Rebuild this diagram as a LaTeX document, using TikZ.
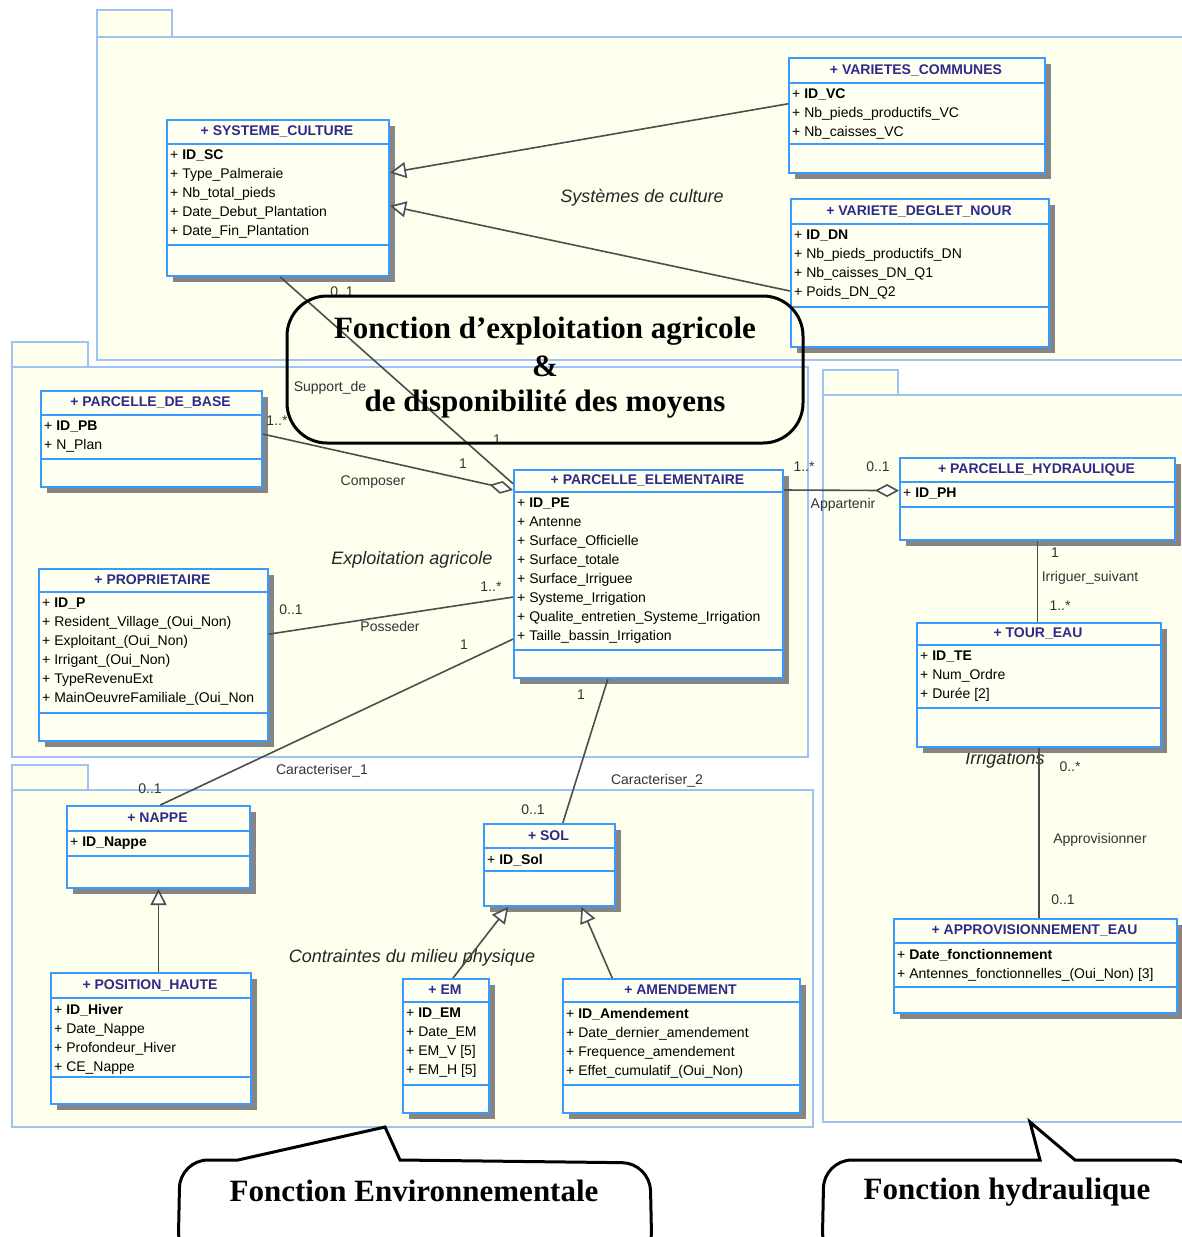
\documentclass[tikz,border=0pt]{standalone}
\usepackage{fontspec}
\setmainfont{Liberation Sans}
\newfontfamily\serifbig{Liberation Serif}
\usetikzlibrary{arrows.meta,calc}

\definecolor{pkgfill}{HTML}{FFFFEE}
\definecolor{pkgline}{HTML}{9DC3F2}
\definecolor{clsline}{HTML}{3A9BFF}
\definecolor{clsfill}{HTML}{FFFFF2}
\definecolor{shadowc}{HTML}{858585}
\definecolor{titlec}{HTML}{2E2A8A}
\definecolor{conn}{HTML}{4D4D4D}
\definecolor{labc}{HTML}{333333}

\tikzset{
 pkg/.style={draw=pkgline, fill=pkgfill, line width=1.6pt},
 clsbox/.style={draw=clsline, fill=clsfill, line width=2pt, inner sep=0pt},
 clssep/.style={draw=clsline, line width=2pt},
 clstitle/.style={text=titlec, font=\fontsize{14}{16}\selectfont\bfseries, inner sep=0pt},
 clsattr/.style={anchor=north west, align=left, inner sep=1pt, font=\fontsize{14}{19}\selectfont},
 conline/.style={draw=conn, line width=1.6pt},
 gen/.style={conline, -{Triangle[open, length=16pt, width=16pt, fill=white]}},
 agg/.style={conline, -{Diamond[open, length=24pt, width=13pt, fill=white]}},
 lab/.style={text=labc, font=\fontsize{14}{16}\selectfont, inner sep=0pt},
 pkglab/.style={text=black!85, font=\fontsize{18}{20}\selectfont\itshape, inner sep=0pt},
 callout/.style={draw=black, line width=3pt},
 bigtxt/.style={font=\serifbig\fontsize{31}{34}\selectfont\bfseries, inner sep=0pt},
}

\newcommand{\umlclass}[8]{%
  \fill[shadowc] ({#2+7},{#3+7}) rectangle ({#4+7},{#5+7});
  \pgfmathsetmacro\clsW{#4-#2}%
  \pgfmathsetmacro\clsH{#5-#3}%
  \node[clsbox, anchor=north west, minimum width=\clsW pt, minimum height=\clsH pt] (#1) at (#2,#3) {};
  \draw[clssep] (#2,#6) -- (#4,#6);
  \draw[clssep] (#2,#7) -- (#4,#7);
  \node[clstitle] at ({(#2+#4)/2},{(#3+#6)/2}) {+ #8};
}
\newcommand{\umlattr}[3]{\node[clsattr] at ({#1+3},{#2+5}) {#3};}

\begin{document}
\begin{tikzpicture}[x=1pt,y=-1pt]
\useasboundingbox (0,0) rectangle (1182,1237);
\clip (0,0) rectangle (1182,1237);
\fill[white] (0,0) rectangle (1182,1237);

% packages
\path[pkg] (97,10) rectangle (172,37);
\path[pkg] (97,37) rectangle (1200,360);
\path[pkg] (12,342) rectangle (88,367);
\path[pkg] (12,367) rectangle (808,757);
\path[pkg] (823,370) rectangle (898,395);
\path[pkg] (823,395) rectangle (1200,1122);
\path[pkg] (12,765) rectangle (88,790);
\path[pkg] (12,790) rectangle (813,1127);

\node[pkglab] (pk1) at (642,198) {Systèmes de culture};
\node[pkglab] (pk2) at (412,560) {Exploitation agricole};
\node[pkglab] (pk3) at (1005,760) {Irrigations};
\node[pkglab] (pk4) at (412,958) {Contraintes du milieu physique};

% classes
\umlclass{sc}{166}{119}{388}{275}{144}{245}{SYSTEME\_CULTURE}
\umlattr{166}{144}{+ \textbf{ID\_SC}\\+ Type\_Palmeraie\\+ Nb\_total\_pieds\\+ Date\_Debut\_Plantation\\+ Date\_Fin\_Plantation}

\umlclass{vc}{788}{57}{1044}{172}{83}{144}{VARIETES\_COMMUNES}
\umlattr{788}{83}{+ \textbf{ID\_VC}\\+ Nb\_pieds\_productifs\_VC\\+ Nb\_caisses\_VC}

\umlclass{vdn}{790}{198}{1048}{346}{224}{307}{VARIETE\_DEGLET\_NOUR}
\umlattr{790}{224}{+ \textbf{ID\_DN}\\+ Nb\_pieds\_productifs\_DN\\+ Nb\_caisses\_DN\_Q1\\+ Poids\_DN\_Q2}

\umlclass{pdb}{40}{390}{261}{486}{415}{459}{PARCELLE\_DE\_BASE}
\umlattr{40}{415}{+ \textbf{ID\_PB}\\+ N\_Plan}

\umlclass{prop}{38}{568}{267}{740}{592}{713}{PROPRIETAIRE}
\umlattr{38}{592}{+ \textbf{ID\_P}\\+ Resident\_Village\_(Oui\_Non)\\+ Exploitant\_(Oui\_Non)\\+ Irrigant\_(Oui\_Non)\\+ TypeRevenuExt\\+ MainOeuvreFamiliale\_(Oui\_Non}

\umlclass{pe}{513}{469}{782}{677}{492}{650}{PARCELLE\_ELEMENTAIRE}
\umlattr{513}{492}{+ \textbf{ID\_PE}\\+ Antenne\\+ Surface\_Officielle\\+ Surface\_totale\\+ Surface\_Irriguee\\+ Systeme\_Irrigation\\+ Qualite\_entretien\_Systeme\_Irrigation\\+ Taille\_bassin\_Irrigation}

\umlclass{ph}{899}{457}{1174}{539}{482}{507}{PARCELLE\_HYDRAULIQUE}
\umlattr{899}{482}{+ \textbf{ID\_PH}}

\umlclass{te}{916}{622}{1160}{746}{645}{708}{TOUR\_EAU}
\umlattr{916}{645}{+ \textbf{ID\_TE}\\+ Num\_Ordre\\+ Durée [2]}

\umlclass{ae}{893}{918}{1176}{1012}{943}{987}{APPROVISIONNEMENT\_EAU}
\umlattr{893}{943}{+ \textbf{Date\_fonctionnement}\\+ Antennes\_fonctionnelles\_(Oui\_Non) [3]}

\umlclass{nappe}{66}{805}{249}{887}{831}{856}{NAPPE}
\umlattr{66}{831}{+ \textbf{ID\_Nappe}}

\umlclass{posh}{50}{972}{250}{1103}{998}{1077}{POSITION\_HAUTE}
\umlattr{50}{998}{+ \textbf{ID\_Hiver}\\+ Date\_Nappe\\+ Profondeur\_Hiver\\+ CE\_Nappe}

\umlclass{sol}{483}{823}{614}{905}{848}{871}{SOL}
\umlattr{483}{848}{+ \textbf{ID\_Sol}}

\umlclass{em}{402}{978}{488}{1112}{1002}{1085}{EM}
\umlattr{402}{1002}{+ \textbf{ID\_EM}\\+ Date\_EM\\+ EM\_V [5]\\+ EM\_H [5]}

\umlclass{amd}{562}{978}{799}{1112}{1002}{1085}{AMENDEMENT}
\umlattr{562}{1002}{+ \textbf{ID\_Amendement}\\+ Date\_dernier\_amendement\\+ Frequence\_amendement\\+ Effet\_cumulatif\_(Oui\_Non)}

% connectors
\draw[gen] ($(vc.north west)!0.4!(vc.south west)$) -- ($(sc.north east)!0.34!(sc.south east)$);
\draw[gen] ($(vdn.north west)!0.62!(vdn.south west)$) -- ($(sc.north east)!0.55!(sc.south east)$);
\draw[conline] ($(sc.south west)!0.51!(sc.south east)$) -- ($(pe.north west)!0.07!(pe.south west)$);
\draw[agg] ($(pdb.north east)!0.45!(pdb.south east)$) -- ($(pe.north west)!0.1!(pe.south west)$);
\draw[conline] ($(prop.north east)!0.38!(prop.south east)$) -- ($(pe.north west)!0.61!(pe.south west)$);
\draw[conline] ($(nappe.north west)!0.51!(nappe.north east)$) -- ($(pe.north west)!0.81!(pe.south west)$);
\draw[conline] ($(sol.north west)!0.6!(sol.north east)$) -- ($(pe.south west)!0.35!(pe.south east)$);
\draw[agg] ($(pe.north east)!0.1!(pe.south east)$) -- ($(ph.north west)!0.4!(ph.south west)$);
\draw[conline] (ph.south) -- (ph.south |- te.north);
\draw[conline] (te.south) -- (te.south |- ae.north);
\draw[gen] (posh.north -| nappe.south) -- (nappe.south);
\draw[gen] ($(em.north west)!0.58!(em.north east)$) -- ($(sol.south west)!0.19!(sol.south east)$);
\draw[gen] ($(amd.north west)!0.21!(amd.north east)$) -- ($(sol.south west)!0.74!(sol.south east)$);

% connector labels
\node[lab] (l1) at (342,292) {0..1};
\node[lab] (l2) at (330,388) {Support\_de};
\node[lab] (l3) at (497,440) {1};
\node[lab] (l4) at (277,421) {1..*};
\node[lab] (l5) at (463,464) {1};
\node[lab] (l6) at (373,482) {Composer};
\node[lab] (l7) at (291,610) {0..1};
\node[lab] (l8) at (390,626) {Posseder};
\node[lab] (l9) at (491,587) {1..*};
\node[lab] (l10) at (464,645) {1};
\node[lab] (l11) at (322,771) {Caracteriser\_1};
\node[lab] (l12) at (150,789) {0..1};
\node[lab] (l13) at (657,781) {Caracteriser\_2};
\node[lab] (l14) at (581,695) {1};
\node[lab] (l15) at (533,810) {0..1};
\node[lab] (l16) at (804,467) {1..*};
\node[lab] (l17) at (878,467) {0..1};
\node[lab] (l18) at (843,505) {Appartenir};
\node[lab] (l19) at (1055,553) {1};
\node[lab] (l20) at (1090,578) {Irriguer\_suivant};
\node[lab] (l21) at (1060,606) {1..*};
\node[lab] (l22) at (1070,767) {0..*};
\node[lab] (l23) at (1100,840) {Approvisionner};
\node[lab] (l24) at (1063,900) {0..1};

% callouts
\draw[callout, rounded corners=40pt] (287,296) rectangle (803,443);
\node[bigtxt] (c1a) at (545,331) {Fonction d’exploitation agricole};
\node[bigtxt] (c1b) at (545,366) {\&};
\node[bigtxt] (c1c) at (545,404) {de disponibilité des moyens};

\draw[callout] (385,1127) -- (400,1160) [rounded corners=28pt] -- (650,1163) -- (652,1260) -- (178,1260) -- (180,1160) [sharp corners] -- (238,1160) -- cycle;
\node[bigtxt] (c2) at (414,1191) {Fonction Environnementale};

\draw[callout] (1030,1122) -- (1075,1160) [rounded corners=28pt] -- (1200,1160) -- (1200,1260) -- (822,1260) -- (824,1160) [sharp corners] -- (1040,1160) -- cycle;
\node[bigtxt] (c3) at (1007,1192) {Fonction hydraulique};
\end{tikzpicture}
\end{document}
